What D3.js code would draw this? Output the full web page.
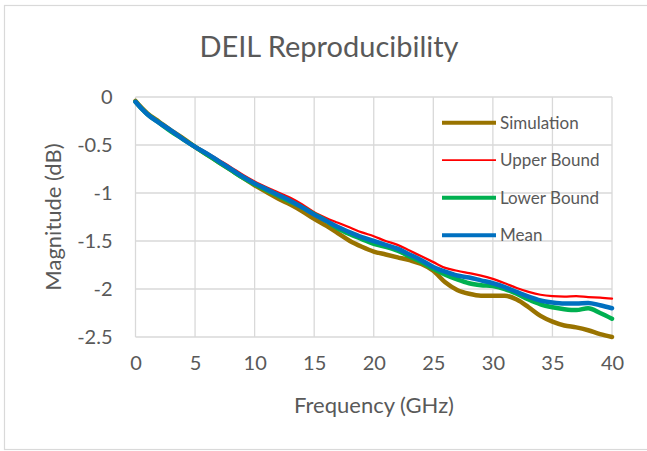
<!DOCTYPE html>
<html>
<head>
<meta charset="utf-8" />
<title>DEIL Reproducibility</title>
<script src="https://cdn.jsdelivr.net/npm/d3@7"></script>
<style>
  body { margin: 0; background: #fff; }
  text { font-family: Lato, "Open Sans", sans-serif; fill: #595959; }
</style>
</head>
<body>
<svg id="chart" width="647" height="451"></svg>
<script>
// frequency points (GHz)
var freq = [0, 0.5, 1, 2, 3, 4, 5, 6, 7, 8, 9, 10, 11, 12, 13, 14, 15, 16, 17, 18, 19, 20,
  21, 22, 23, 24, 25, 26, 27, 28, 29, 30, 31, 32, 33, 34, 35, 36, 37, 38, 39, 40];

var simulation = [-0.04, -0.11, -0.17, -0.26, -0.35, -0.43, -0.52, -0.60, -0.68, -0.76, -0.84, -0.92,
  -0.99, -1.06, -1.12, -1.19, -1.27, -1.34, -1.42, -1.50, -1.56, -1.61,
  -1.64, -1.67, -1.70, -1.74, -1.81, -1.93, -2.01, -2.05, -2.07, -2.07,
  -2.07, -2.11, -2.19, -2.28, -2.34, -2.38, -2.40, -2.43, -2.47, -2.50];

var upper = [-0.05, -0.12, -0.18, -0.27, -0.35, -0.43, -0.51, -0.58, -0.655, -0.73, -0.81, -0.88,
  -0.94, -0.995, -1.05, -1.12, -1.20, -1.26, -1.31, -1.36, -1.41, -1.45,
  -1.50, -1.54, -1.60, -1.66, -1.72, -1.78, -1.81, -1.835, -1.86, -1.895,
  -1.94, -1.99, -2.03, -2.06, -2.075, -2.08, -2.075, -2.085, -2.09, -2.10];

var lower = [-0.05, -0.12, -0.18, -0.27, -0.36, -0.44, -0.52, -0.60, -0.68, -0.76, -0.84, -0.91,
  -0.97, -1.03, -1.09, -1.15, -1.22, -1.29, -1.37, -1.43, -1.48, -1.53,
  -1.56, -1.60, -1.66, -1.72, -1.79, -1.85, -1.90, -1.94, -1.96, -1.97,
  -2.00, -2.05, -2.11, -2.16, -2.19, -2.21, -2.22, -2.20, -2.25, -2.31];

var mean = [-0.05, -0.12, -0.18, -0.27, -0.35, -0.44, -0.52, -0.59, -0.67, -0.75, -0.83, -0.90,
  -0.96, -1.02, -1.08, -1.15, -1.225, -1.29, -1.355, -1.41, -1.46, -1.50,
  -1.54, -1.58, -1.64, -1.70, -1.77, -1.82, -1.86, -1.88, -1.91, -1.94,
  -1.98, -2.03, -2.08, -2.12, -2.14, -2.15, -2.15, -2.145, -2.17, -2.20];

var seriesNames = ["Simulation", "Upper Bound", "Lower Bound", "Mean"];
var seriesColors = ["#997300", "#ff0000", "#00b050", "#0070c0"];
var seriesWidths = [4.5, 2.25, 4.5, 4.5];
var xTicks = [0, 5, 10, 15, 20, 25, 30, 35, 40];
var yTicks = [0, -0.5, -1, -1.5, -2, -2.5];

var allSeries = [simulation, upper, lower, mean];

var svg = d3.select("#chart");

// chart frame
svg.append("rect")
  .attr("x", 4.5).attr("y", 5.5)
  .attr("width", 660).attr("height", 444)
  .attr("fill", "#fff").attr("stroke", "#d9d9d9").attr("stroke-width", 1.2);

var plotL = 135.5, plotR = 612, plotT = 97, plotB = 337;

var x = d3.scaleLinear().domain([0, 40]).range([plotL, plotR]);
var y = d3.scaleLinear().domain([-2.5, 0]).range([plotB, plotT]);

// gridlines
svg.append("g").selectAll("line").data(xTicks).enter().append("line")
  .attr("x1", function(d){ return x(d); }).attr("x2", function(d){ return x(d); })
  .attr("y1", plotT).attr("y2", plotB)
  .attr("stroke", "#d9d9d9").attr("stroke-width", 1.3);

svg.append("g").selectAll("line").data(yTicks).enter().append("line")
  .attr("x1", plotL).attr("x2", plotR)
  .attr("y1", function(d){ return y(d); }).attr("y2", function(d){ return y(d); })
  .attr("stroke", "#d9d9d9").attr("stroke-width", 1.3);

// tick labels via d3 axes (no lines)
var xAxis = svg.append("g").attr("transform", "translate(0," + plotB + ")")
  .call(d3.axisBottom(x).tickValues(xTicks).tickSize(0).tickPadding(19).tickFormat(d3.format("d")));
var yAxis = svg.append("g").attr("transform", "translate(" + plotL + ",0)")
  .call(d3.axisLeft(y).tickValues(yTicks).tickSize(0).tickPadding(23).tickFormat(function(d){ return String(d); }));
[xAxis, yAxis].forEach(function(a){
  a.select(".domain").remove();
  a.selectAll("text").attr("font-family", "Lato, 'Open Sans', sans-serif")
    .attr("font-size", 20).attr("fill", "#595959");
});

// series
var line = d3.line()
  .x(function(d, i){ return x(freq[i]); })
  .y(function(d){ return y(d); })
  .curve(d3.curveMonotoneX);

allSeries.forEach(function(s, k){
  svg.append("path").datum(s)
    .attr("d", line)
    .attr("fill", "none")
    .attr("stroke", seriesColors[k])
    .attr("stroke-width", seriesWidths[k])
    .attr("stroke-linejoin", "round")
    .attr("stroke-linecap", "round");
});

// title
svg.append("text")
  .attr("x", 329).attr("y", 57)
  .attr("text-anchor", "middle")
  .attr("font-size", 29)
  .text("DEIL Reproducibility");

// axis titles
svg.append("text")
  .attr("x", 374).attr("y", 413)
  .attr("text-anchor", "middle")
  .attr("font-size", 22)
  .text("Frequency (GHz)");

svg.append("text")
  .attr("transform", "translate(61,217) rotate(-90)")
  .attr("text-anchor", "middle")
  .attr("font-size", 22)
  .text("Magnitude (dB)");

// legend
var legend = svg.append("g");
seriesNames.forEach(function(name, k){
  var ly = 122.7 + k * 37.5;
  legend.append("line")
    .attr("x1", 442).attr("x2", 496)
    .attr("y1", ly).attr("y2", ly)
    .attr("stroke", seriesColors[k])
    .attr("stroke-width", seriesWidths[k] - 0.5);
  legend.append("text")
    .attr("x", 500).attr("y", ly + 6)
    .attr("font-size", 17)
    .text(name);
});
</script>
</body>
</html>
